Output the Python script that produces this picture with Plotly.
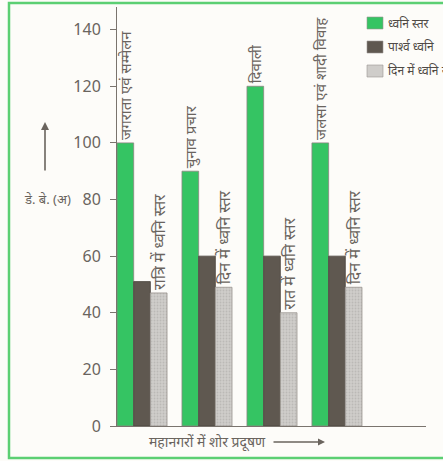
import plotly.graph_objects as go

# ---- data ----
categories = [0, 1, 2, 3]
series_names = ["ध्वनि स्तर", "पार्श्व ध्वनि", "दिन में ध्वनि स्तर"]
noise_level = [100, 90, 120, 100]
background_noise = [51, 60, 60, 60]
day_night_noise = [47, 49, 40, 49]
event_labels = ["जगराता एवं सम्मेलन", "चुनाव प्रचार", "दिवाली", "जलसा एवं शादी विवाह"]
time_labels = ["रात्रि में ध्वनि स्तर", "दिन में ध्वनि स्तर", "रात में ध्वनि स्तर", "दिन में ध्वनि स्तर"]
y_ticks = [0, 20, 40, 60, 80, 100, 120, 140]

GREEN = "#35c463"
DARK = "#5f5850"
LIGHT = "#cfcdca"
TXT = "#6a645e"
FONT = "Noto Sans, sans-serif"

green_marker = dict(color=GREEN, line=dict(color="#8a8580", width=0.8))
dark_marker = dict(color=DARK, line=dict(color="#4a443e", width=0.8))
light_marker = dict(color=LIGHT, line=dict(color="#9a9590", width=0.8),
                    pattern=dict(shape=".", fgcolor="#a8a5a2", size=3, solidity=0.3))

fig = go.Figure()
fig.add_trace(go.Bar(
    x=categories, y=noise_level, name=series_names[0], marker=green_marker,
    text=event_labels, textposition="outside", textangle=-90,
    constraintext="none", cliponaxis=False,
    textfont=dict(size=15, color=TXT, family=FONT),
))
fig.add_trace(go.Bar(
    x=categories, y=background_noise, name=series_names[1], marker=dark_marker,
))
fig.add_trace(go.Bar(
    x=categories, y=day_night_noise, name=series_names[2], marker=light_marker,
    text=time_labels, textposition="outside", textangle=-90,
    constraintext="none", cliponaxis=False,
    textfont=dict(size=16, color=TXT, family=FONT),
))

W, H = 443, 461
L, R, T, B = 117, 17, 7, 35
pw, ph = W - L - R, H - T - B

def px(x):
    return (x - L) / pw

def py(y):
    return (H - B - y) / ph

shapes = [dict(
    type="rect", xref="paper", yref="paper",
    x0=px(9), x1=px(460), y0=py(458), y1=py(3),
    line=dict(color="#5ccf73", width=2.5), fillcolor="rgba(0,0,0,0)",
    layer="below",
)]
annotations = [
    dict(xref="paper", yref="paper", x=px(47), y=py(199),
         xanchor="center", yanchor="middle",
         text="डे. बे. (अ)", showarrow=False,
         font=dict(size=13, color=TXT, family=FONT)),
    dict(xref="paper", yref="paper", x=px(45), y=py(122),
         text="", showarrow=True, ax=0, ay=50,
         arrowhead=2, arrowsize=1, arrowwidth=1.6, arrowcolor="#6a645e"),
    dict(xref="paper", yref="paper", x=px(207), y=py(442),
         xanchor="center", yanchor="middle",
         text="महानगरों में शोर प्रदूषण", showarrow=False,
         font=dict(size=14, color=TXT, family=FONT)),
    dict(xref="paper", yref="paper", x=px(325), y=py(442),
         text="", showarrow=True, ax=-53, ay=0,
         arrowhead=2, arrowsize=1, arrowwidth=1.4, arrowcolor="#6a645e"),
]

# manual legend (keeps plot area fixed)
legend_colors = [GREEN, DARK, LIGHT]
legend_tops = [17, 41, 65]
for name, col, top in zip(series_names, legend_colors, legend_tops):
    shapes.append(dict(type="rect", xref="paper", yref="paper",
                       x0=px(367), x1=px(383), y0=py(top + 12), y1=py(top),
                       line=dict(color="#9a9590", width=0.6), fillcolor=col))
    annotations.append(dict(xref="paper", yref="paper", x=px(386), y=py(top + 6),
                            xanchor="left", yanchor="middle", text=name,
                            showarrow=False,
                            font=dict(size=12, color="#4f4a45", family=FONT)))

fig.update_layout(
    width=W, height=H,
    margin=dict(l=L, r=R, t=T, b=B, pad=0),
    paper_bgcolor="#fdfcf9", plot_bgcolor="#fdfcf9",
    barmode="group", bargap=0.23, bargroupgap=0,
    font=dict(family=FONT, color=TXT),
    showlegend=False,
    xaxis=dict(
        range=[-0.385, 4.37], showticklabels=False, ticks="",
        showgrid=False, zeroline=False,
        showline=True, linecolor="#7a746e", linewidth=1,
    ),
    yaxis=dict(
        range=[0, 148], tickvals=y_ticks, showgrid=False, zeroline=False,
        showline=True, linecolor="#7a746e", linewidth=1,
        ticks="outside", ticklen=6, tickcolor="#7a746e",
        tickfont=dict(size=16, color=TXT, family=FONT),
        ticklabelstandoff=6,
    ),
    shapes=shapes,
    annotations=annotations,
)

fig.write_html("out.html")
